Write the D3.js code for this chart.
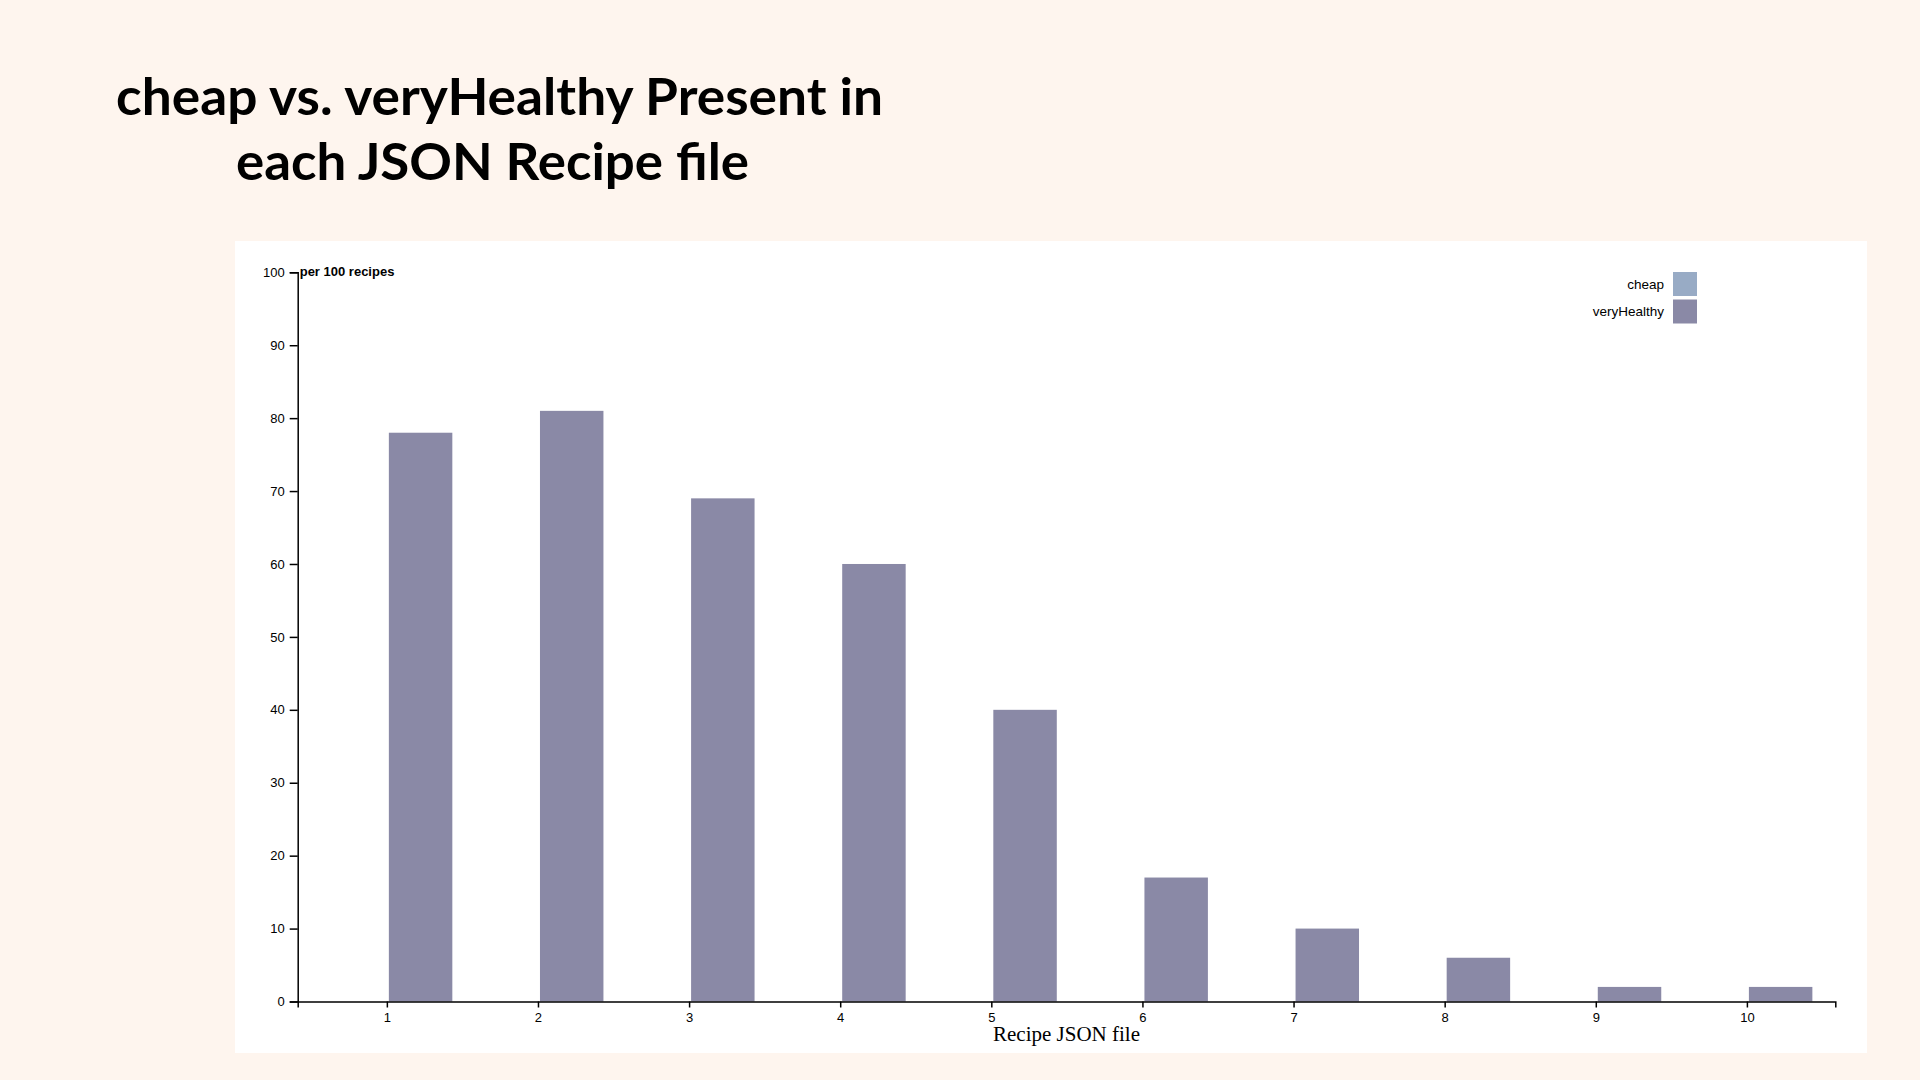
<!DOCTYPE html>
<html>
<head>
<meta charset="utf-8">
<script src="https://cdn.jsdelivr.net/npm/d3@7"></script>
<style>
  html, body { margin: 0; padding: 0; background: #fef5ee; }
  svg { display: block; }
</style>
</head>
<body>
<script>
// ---- data ----
const titleLines = ["cheap vs. veryHealthy Present in", "each JSON Recipe file"];
const files = [1, 2, 3, 4, 5, 6, 7, 8, 9, 10];
const cheap = [0, 0, 0, 0, 0, 0, 0, 0, 0, 0];
const veryHealthy = [78, 81, 69, 60, 40, 17, 10, 6, 2, 2];
const seriesNames = ["cheap", "veryHealthy"];
const seriesColors = ["#98abc5", "#8a89a6"];
const yTicks = [0, 10, 20, 30, 40, 50, 60, 70, 80, 90, 100];
const yLabel = "per 100 recipes";
const xLabel = "Recipe JSON file";

// ---- layout ----
const W = 1920, H = 1080;
const svg = d3.select("body").append("svg").attr("width", W).attr("height", H);
svg.append("rect").attr("width", W).attr("height", H).attr("fill", "#fef5ee");
svg.append("rect").attr("x", 235).attr("y", 241).attr("width", 1632).attr("height", 812).attr("fill", "#ffffff");

// title
const titleSpecs = [{x: 116, y: 115, len: 767}, {x: 236, y: 180, len: 513}];
titleLines.forEach((t, i) => {
  svg.append("text")
    .attr("x", titleSpecs[i].x).attr("y", titleSpecs[i].y)
    .attr("textLength", titleSpecs[i].len)
    .attr("lengthAdjust", "spacingAndGlyphs")
    .style("font-family", "Lato, 'Open Sans', sans-serif")
    .style("font-weight", 700)
    .style("font-size", "51px")
    .attr("fill", "#000")
    .text(t);
});

// scales
const x = d3.scaleLinear().domain([0.41, 10.585]).range([297.7, 1835.3]);
const y = d3.scaleLinear().domain([0, 100]).range([1001.5, 272.3]);
const color = d3.scaleOrdinal().domain(seriesNames).range(seriesColors);

const rows = files.map((f, i) => ({file: f, cheap: cheap[i], veryHealthy: veryHealthy[i]}));
const stack = d3.stack().keys(seriesNames)(rows);

const g = svg.append("g");
const barW = x(1.42) - x(1);

g.selectAll("g.series").data(stack).join("g")
  .attr("class", "series")
  .attr("fill", d => color(d.key))
  .selectAll("rect").data(d => d).join("rect")
  .attr("x", d => x(d.data.file) + 2)
  .attr("y", d => y(d[1]))
  .attr("width", barW)
  .attr("height", d => y(d[0]) - y(d[1]));

// axes
const xAxis = d3.axisBottom(x).tickValues(files).tickFormat(d3.format("d")).tickSize(6).tickPadding(5);
const yAxis = d3.axisLeft(y).tickValues(yTicks).tickSize(8).tickPadding(5);

const gx = g.append("g").attr("transform", `translate(0,${y(0)})`).call(xAxis);
const gy = g.append("g").attr("transform", `translate(${x.range()[0]},0)`).call(yAxis);

[gx, gy].forEach(a => {
  a.selectAll("path, line").attr("stroke", "#000").attr("stroke-width", 1.5);
  a.selectAll("text").style("font-family", "'Liberation Sans', Arial, sans-serif").style("font-size", "13px").attr("fill", "#000");
});

gy.append("text")
  .attr("x", 2).attr("y", y(100)).attr("dy", "0.32em")
  .attr("text-anchor", "start")
  .attr("fill", "#000")
  .style("font-family", "'Liberation Sans', Arial, sans-serif")
  .style("font-weight", "bold")
  .style("font-size", "13px")
  .text(yLabel);

g.append("text")
  .attr("x", (x.range()[0] + x.range()[1]) / 2)
  .attr("y", y(0) + 39)
  .attr("text-anchor", "middle")
  .style("font-family", "'Liberation Serif', 'Times New Roman', serif")
  .style("font-size", "21px")
  .attr("fill", "#000")
  .text(xLabel);

// legend
const legend = g.append("g")
  .selectAll("g").data(seriesNames).join("g")
  .attr("transform", (d, i) => `translate(0,${272 + i * 27.5})`);
legend.append("rect")
  .attr("x", 1673).attr("width", 24).attr("height", 24)
  .attr("fill", d => color(d));
legend.append("text")
  .attr("x", 1664).attr("y", 12).attr("dy", "0.35em")
  .attr("text-anchor", "end")
  .style("font-family", "'Liberation Sans', Arial, sans-serif")
  .style("font-size", "13.5px")
  .attr("fill", "#000")
  .text(d => d);
</script>
</body>
</html>
